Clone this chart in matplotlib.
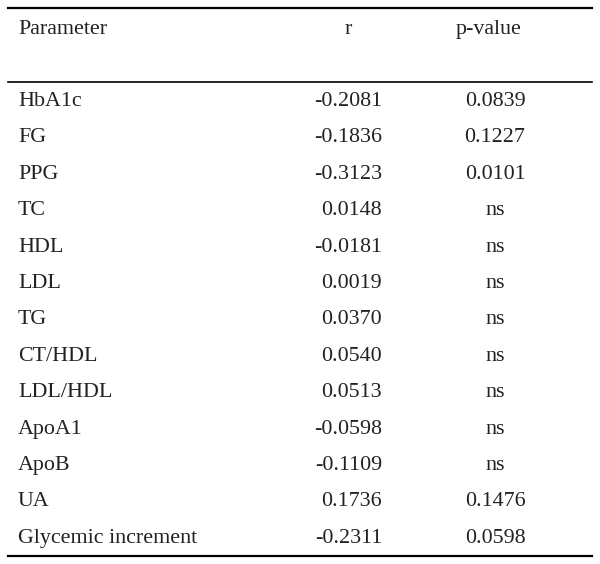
import matplotlib
matplotlib.use("Agg")
import matplotlib.pyplot as plt

# table contents
parameters = ["HbA1c", "FG", "PPG", "TC", "HDL", "LDL", "TG", "CT/HDL",
              "LDL/HDL", "ApoA1", "ApoB", "UA", "Glycemic increment"]
r_values = ["-0.2081", "-0.1836", "-0.3123", "0.0148", "-0.0181", "0.0019",
            "0.0370", "0.0540", "0.0513", "-0.0598", "-0.1109", "0.1736", "-0.2311"]
p_values = ["0.0839", "0.1227", "0.0101", "ns", "ns", "ns", "ns", "ns", "ns",
            "ns", "ns", "0.1476", "0.0598"]
headers = ["Parameter", "r", "p-value"]

plt.rcParams["font.family"] = ["Liberation Serif", "DejaVu Serif"]

fig = plt.figure(figsize=(6.0, 5.64), dpi=100)
ax = fig.add_axes([0, 0, 1, 1])
ax.set_xlim(0, 600)
ax.set_ylim(564, 0)
ax.axis("off")

fs = 15.8
color = "#222222"
x_left, x_r, x_p = 18, 382, 495
y0, dy = 101.5, 36.4

# header
ax.text(x_left, 29.5, headers[0], fontsize=fs, color=color, va="center", ha="left")
ax.text(348, 29.5, headers[1], fontsize=fs, color=color, va="center", ha="center")
ax.text(489, 29.5, headers[2], fontsize=fs, color=color, va="center", ha="center")

# rules
ax.plot([8, 592], [8, 8], color="black", lw=1.6)
ax.plot([8, 592], [82, 82], color="black", lw=1.2)
ax.plot([8, 592], [556, 556], color="black", lw=1.6)

for i, (name, r, p) in enumerate(zip(parameters, r_values, p_values)):
    y = y0 + i * dy
    ax.text(x_left, y, name, fontsize=fs, color=color, va="center", ha="left")
    ax.text(x_r, y, r, fontsize=fs, color=color, va="center", ha="right")
    ax.text(x_p, y, p, fontsize=fs, color=color, va="center", ha="center")

fig.savefig("out.png", dpi=100)
